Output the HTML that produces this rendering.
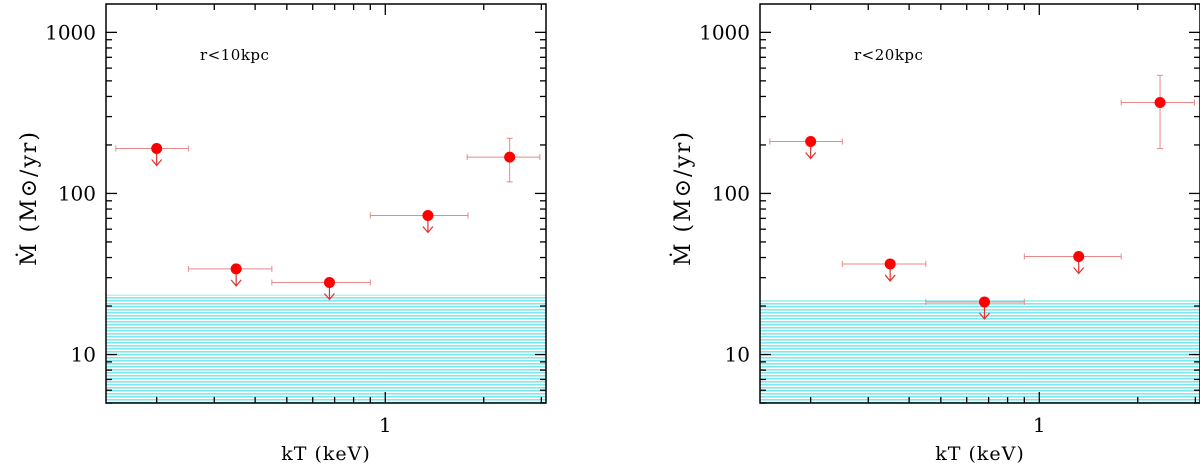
<!DOCTYPE html>
<html><head><meta charset="utf-8">
<style>
html,body{margin:0;padding:0;background:#fff;}
svg{display:block;font-family:"DejaVu Serif","Liberation Serif",serif;}
</style></head>
<body>
<svg id="chart" width="1200" height="467" viewBox="0 0 1200 467" xmlns="http://www.w3.org/2000/svg">
<defs>
<pattern id="hatch" width="4" height="3" patternUnits="userSpaceOnUse">
<rect width="4" height="3" fill="#ffffff"/>
<rect width="4" height="1.6" fill="#7fe8ee"/>
</pattern>
</defs>
</svg>
<script>
// Panel 1 data (r<10kpc)
const p1Temp = [0.2, 0.35, 0.675, 1.35, 2.4];
const p1TempLo = [0.15, 0.25, 0.45, 0.9, 1.78];
const p1TempHi = [0.25, 0.45, 0.9, 1.79, 2.97];
const p1Mdot = [190, 34, 28, 73, 168];
const p1MdotLo = [null, null, null, null, 118];
const p1MdotHi = [null, null, null, null, 220];
const p1Upper = [true, true, true, true, false];
const p1Limit = 23.5;
// Panel 2 data (r<20kpc)
const p2Temp = [0.2, 0.35, 0.68, 1.32, 2.34];
const p2TempLo = [0.15, 0.25, 0.45, 0.9, 1.78];
const p2TempHi = [0.25, 0.45, 0.9, 1.78, 2.98];
const p2Mdot = [210, 36.5, 21.2, 40.6, 367];
const p2MdotLo = [null, null, null, null, 190];
const p2MdotHi = [null, null, null, null, 541];
const p2Upper = [true, true, true, true, false];
const p2Limit = 21.7;
const yTicks = [10, 100, 1000];
const yTickLabels = ["10", "100", "1000"];
const xTicks = [1];
const xTickLabels = ["1"];

const NS = "http://www.w3.org/2000/svg";
const svg = document.getElementById("chart");
function mk(tag, attrs, parent){
  const e = document.createElementNS(NS, tag);
  for (const k in attrs) e.setAttribute(k, attrs[k]);
  (parent||svg).appendChild(e);
  return e;
}
const X0 = 0.14, X1 = 3.1, Y0 = 5, Y1 = 1500;
function drawPanel(ox, title, T, TLo, THi, M, MLo, MHi, UP, limit, idx){
  const L = ox, R = ox + 440, Tp = 4, B = 403;
  const xs = v => L + (Math.log10(v) - Math.log10(X0)) / (Math.log10(X1) - Math.log10(X0)) * (R - L);
  const ys = v => B - (Math.log10(v) - Math.log10(Y0)) / (Math.log10(Y1) - Math.log10(Y0)) * (B - Tp);
  const g = mk("g", {});
  
  
  const band = mk("rect", {x: L, y: ys(limit), width: R - L, height: B - ys(limit), fill: "url(#hatch)"}, g);
  
  
  const tg = mk("g", {stroke: "#000", "stroke-width": 1.3}, g);
  
  
  for (let d = 1; d <= 1000; d *= 10) {
    for (let m = 1; m <= 9; m++) {
      const v = d * m; if (v < Y0 || v > Y1) continue;
      const len = m === 1 ? 11 : 6; const y = ys(v);
      mk("line", {x1: L, x2: L + len, y1: y, y2: y}, tg);
      mk("line", {x1: R, x2: R - len, y1: y, y2: y}, tg);
    }
  }
  for (let d = 0.1; d <= 1; d *= 10) {
    for (let m = 1; m <= 9; m++) {
      const v = d * m; if (v < X0 || v > X1) continue;
      const len = Math.abs(v - 1) < 1e-6 ? 11 : 6; const x = xs(v);
      mk("line", {x1: x, x2: x, y1: B, y2: B - len}, tg);
      mk("line", {x1: x, x2: x, y1: Tp, y2: Tp + len}, tg);
    }
  }
  const frame = mk("rect", {x: L, y: Tp, width: R - L, height: B - Tp, fill: "none", stroke: "#000", "stroke-width": 1.5}, g);
  
  
  yTicks.forEach((v, i) => {
    const t = mk("text", {x: L - 10, y: ys(v) + 7, "text-anchor": "end", "font-size": 20}, g);
    t.textContent = yTickLabels[i];
    
    
  });
  xTicks.forEach((v, i) => {
    const t = mk("text", {x: xs(v), y: 432, "text-anchor": "middle", "font-size": 20}, g);
    t.textContent = xTickLabels[i];
    
    
  });
  const xt = mk("text", {x: L + 220, y: 460, "text-anchor": "middle", "font-size": 19, "letter-spacing": "1"}, g);
  xt.textContent = "kT (keV)";
  
  
  const yt = mk("text", {x: 0, y: 0, transform: `translate(${L - 70},198) rotate(-90)`, "text-anchor": "middle", "font-size": 22, "letter-spacing": "2"}, g);
  yt.textContent = "Ṁ (M⊙/yr)";
  
  
  const tt = mk("text", {x: L + 94, y: 60, "font-size": 15, "letter-spacing": "0.5"}, g);
  tt.textContent = title;
  
  
  T.forEach((v, i) => {
    const pg = mk("g", {}, g);
    
    
    const x = xs(v), y = ys(M[i]), x1 = xs(TLo[i]), x2 = xs(THi[i]);
    const ec = "#e88a8a";
    mk("line", {x1: x1, x2: x2, y1: y, y2: y, stroke: ec, "stroke-width": 1}, pg);
    mk("line", {x1: x1, x2: x1, y1: y - 3, y2: y + 3, stroke: ec, "stroke-width": 1}, pg);
    mk("line", {x1: x2, x2: x2, y1: y - 3, y2: y + 3, stroke: ec, "stroke-width": 1}, pg);
    if (MLo[i] !== null) {
      const ya = ys(MHi[i]), yb = ys(MLo[i]);
      mk("line", {x1: x, x2: x, y1: ya, y2: yb, stroke: ec, "stroke-width": 1}, pg);
      mk("line", {x1: x - 3, x2: x + 3, y1: ya, y2: ya, stroke: ec, "stroke-width": 1}, pg);
      mk("line", {x1: x - 3, x2: x + 3, y1: yb, y2: yb, stroke: ec, "stroke-width": 1}, pg);
    }
    if (UP[i]) {
      mk("line", {x1: x, x2: x, y1: y, y2: y + 17, stroke: "#e03030", "stroke-width": 1.2}, pg);
      mk("polyline", {points: `${x - 5},${y + 11} ${x},${y + 17} ${x + 5},${y + 11}`, fill: "none", stroke: "#e03030", "stroke-width": 1.2}, pg);
    }
    mk("circle", {cx: x, cy: y, r: 5.5, fill: "#ff0000"}, pg);
  });
}
drawPanel(106, "r<10kpc", p1Temp, p1TempLo, p1TempHi, p1Mdot, p1MdotLo, p1MdotHi, p1Upper, p1Limit, 1);
drawPanel(760, "r<20kpc", p2Temp, p2TempLo, p2TempHi, p2Mdot, p2MdotLo, p2MdotHi, p2Upper, p2Limit, 2);
</script>
</body></html>
